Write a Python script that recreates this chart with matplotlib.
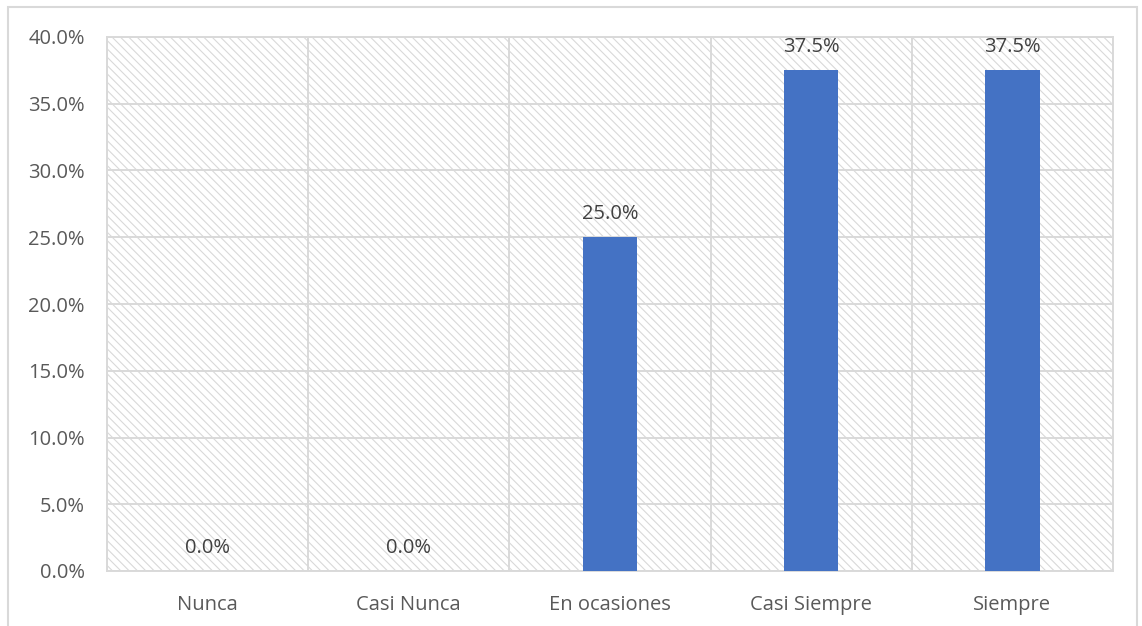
import numpy as np
import matplotlib
matplotlib.use('Agg')
import matplotlib.pyplot as plt
from matplotlib.patches import Rectangle
from matplotlib.ticker import FuncFormatter, MultipleLocator

# Frequency of answers per category
categorias = ['Nunca', 'Casi Nunca', 'En ocasiones', 'Casi Siempre', 'Siempre']
porcentajes = [0.0, 0.0, 25.0, 37.5, 37.5]

plt.rcParams['font.family'] = ['Open Sans', 'DejaVu Sans']
plt.rcParams['hatch.color'] = '#d9d9d9'
plt.rcParams['hatch.linewidth'] = 0.8

fig = plt.figure(figsize=(11.42, 6.26), dpi=100)
# chart border
fig.patches.append(Rectangle((8 / 1142, -0.01), 1129 / 1142, 1 - 7 / 626 + 0.01,
                             transform=fig.transFigure, fill=False,
                             edgecolor='#d9d9d9', linewidth=1.5))

ax = fig.add_axes([107 / 1142, 1 - 571 / 626, 1006 / 1142, 534 / 626])

# hatched plot area
ax.add_patch(Rectangle((0, 0), 1, 1, transform=ax.transAxes, facecolor='white',
                       hatch='\\\\\\\\', edgecolor='#d9d9d9', linewidth=0, zorder=0))

x = np.arange(len(categorias))
bars = ax.bar(x, porcentajes, width=0.27, color='#4472c4', zorder=3)

for xi, v in zip(x, porcentajes):
    ax.text(xi, v + 1.0, f'{v:.1f}%', ha='center', va='bottom',
            fontsize=14.5, color='#404040', zorder=4)

ax.set_xlim(-0.5, len(categorias) - 0.5)
ax.set_ylim(0, 40)
ax.yaxis.set_major_locator(MultipleLocator(5))
ax.yaxis.set_major_formatter(FuncFormatter(lambda v, p: f'{v:.1f}%'))
ax.set_xticks(x)
ax.set_xticklabels(categorias)
ax.set_xticks(np.arange(-0.5, len(categorias)), minor=True)

ax.grid(axis='y', which='major', color='#d9d9d9', linewidth=1.4, zorder=1)
ax.grid(axis='x', which='minor', color='#d9d9d9', linewidth=1.4, zorder=1)
ax.set_axisbelow(True)

ax.tick_params(axis='both', which='both', length=0, labelsize=14.5, colors='#595959')
ax.tick_params(axis='x', pad=17)
ax.tick_params(axis='y', pad=16)
for s in ax.spines.values():
    s.set_color('#d9d9d9')
    s.set_linewidth(1.4)

fig.savefig('out.png', dpi=100)
